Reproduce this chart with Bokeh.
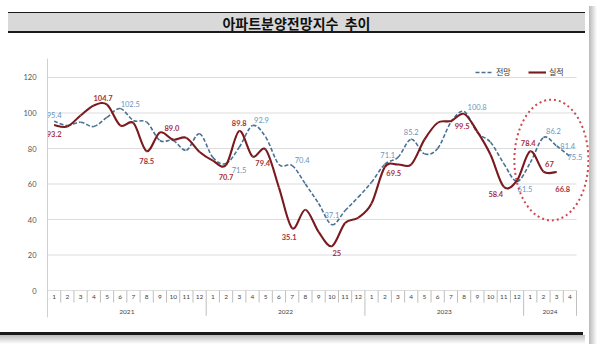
import numpy as np
from bokeh.plotting import figure
from bokeh.models import ColumnDataSource, Range1d, FixedTicker, Legend, LegendItem, Div
from bokeh.layouts import column, row
from bokeh.core.properties import value
from bokeh.embed import file_html
from bokeh.resources import INLINE

# ---------------- data ----------------
title_text = "아파트분양전망지수&nbsp;&nbsp;추이"
series_names = ["전망", "실적"]
years = ["2021", "2022", "2023", "2024"]
months_per_year = [12, 12, 12, 4]
month_labels = [str(m) for n in months_per_year for m in range(1, n + 1)]

# 전망 (forecast)
forecast = [95.4, 93.0, 94.8, 92.4, 97.6, 102.5, 95.8, 94.8, 84.5, 84.5, 79.0, 88.3,
            75.0, 71.5, 80.7, 92.9, 86.4, 71.0, 70.4, 60.0, 49.0, 37.1, 45.0, 52.6,
            61.0, 71.1, 75.0, 85.2, 77.0, 80.0, 94.8, 100.8, 89.0, 83.5, 71.5, 61.5,
            72.0, 86.2, 81.4, 75.5]
# 실적 (actual)
actual = [93.2, 92.4, 98.6, 104.2, 104.7, 93.0, 94.3, 78.5, 89.0, 85.0, 86.0, 78.0,
          73.2, 70.7, 89.8, 75.5, 79.4, 58.0, 35.1, 45.5, 33.0, 25, 38.0, 41.0,
          49.0, 69.5, 71.0, 71.0, 85.0, 94.5, 95.5, 99.5, 89.5, 76.5, 58.4, 62.0,
          78.4, 67, 66.8, None]

y_ticks = [0, 20, 40, 60, 80, 100, 120]

forecast_label_idx = [0, 5, 13, 15, 18, 21, 25, 27, 31, 35, 37, 38, 39]
actual_label_idx = [0, 4, 7, 8, 13, 14, 16, 18, 21, 25, 31, 34, 36, 37, 38]

# ---------------- styles ----------------
BLUE = "#4A7193"
BLUE_TXT = "#6A95BD"
RED = "#7A1A1E"
RED_TXT = "#A8323A"
GRID = "#DDDDDD"
TABLE = "#BFBFBF"
NUM_FONT = value("Lato")

# label offsets in screen px (dx, dy-down)
forecast_off = [(0, -6), (10, -5), (13, 6), (9, -6), (10, -6), (0, -10), (3, -9),
                (0, -7), (13, -5), (8, 8), (10, -6), (11, 0), (5, 1)]
actual_off = [(0, 9), (-4, -7), (0, 10), (12, -5), (0, 12), (0, -8), (-3, 13),
              (-3, 9), (5, 7), (9, 6), (-2, 12), (-8, 7), (-2, -8), (6, -8), (6, 17)]

n = len(month_labels)
W_MAIN = 589

# ---------------- helpers ----------------
def smooth_bezier(vals):
    idx = [i for i, v in enumerate(vals) if v is not None]
    xs = np.array(idx, dtype=float)
    ys = np.array([vals[i] for i in idx], dtype=float)
    m = len(xs)
    xp = np.concatenate([[xs[0]], xs, [xs[-1]]])
    yp = np.concatenate([[ys[0]], ys, [ys[-1]]])
    cx0 = xs[:-1] + (xp[2:m + 1] - xp[0:m - 1]) / 6.0
    cy0 = ys[:-1] + (yp[2:m + 1] - yp[0:m - 1]) / 6.0
    cx1 = xs[1:] - (xp[3:m + 2] - xp[1:m]) / 6.0
    cy1 = ys[1:] - (yp[3:m + 2] - yp[1:m]) / 6.0
    return dict(x0=xs[:-1], y0=ys[:-1], x1=xs[1:], y1=ys[1:],
                cx0=cx0, cy0=cy0, cx1=cx1, cy1=cy1)

# ---------------- top (title band) ----------------
title_html = (
    '<div style="position:relative;left:8px;top:12px;width:577px;height:21px;'
    'background:#D9D9D9;border-top:1.5px solid #1A1A1A;border-bottom:2.5px solid #1A1A1A;'
    'text-align:center;font-family:\'Noto Sans CJK KR\';font-weight:bold;font-size:14px;'
    'line-height:21px;color:#111111;">' + title_text + '</div>'
)
top = Div(text=title_html, width=W_MAIN, height=42, margin=0)

# ---------------- main chart ----------------
p = figure(width=W_MAIN, height=287, x_range=Range1d(-0.5, 40.48), y_range=Range1d(-15.2, 130.7),
           toolbar_location=None, output_backend="svg", x_axis_location=None)
p.min_border_top = 16
p.min_border_bottom = 12
p.min_border_left = 47
p.min_border_right = 0
p.outline_line_color = None
p.grid.visible = False

p.yaxis.ticker = FixedTicker(ticks=y_ticks)
p.yaxis.major_tick_line_color = None
p.yaxis.minor_tick_line_color = None
p.yaxis.axis_line_color = "#D0D0D0"
p.yaxis.major_label_text_font = "Lato"
p.yaxis.major_label_text_font_size = "7.5px"
p.yaxis.major_label_text_color = "#555555"
p.yaxis.major_label_standoff = 5

# gridlines
p.segment(x0=[-0.5] * len(y_ticks), x1=[n - 0.5] * len(y_ticks), y0=y_ticks, y1=y_ticks,
          line_color=GRID, line_width=1)

# category table below the plot
month_row_bottom = -6.8
table_bottom = -14.2
bounds = np.cumsum(months_per_year)
year_edges = [float(b) - 0.5 for b in bounds]
month_seps = [i - 0.5 for i in range(1, n) if (i - 0.5) not in year_edges]
p.segment(x0=month_seps, x1=month_seps, y0=[0] * len(month_seps), y1=[month_row_bottom] * len(month_seps),
          line_color=TABLE, line_width=1)
p.segment(x0=year_edges, x1=year_edges, y0=[0] * len(year_edges), y1=[table_bottom] * len(year_edges),
          line_color=TABLE, line_width=1)
p.text(x=list(range(n)), y=[-3.8] * n, text=month_labels, text_font=NUM_FONT, text_font_size="6.5px",
       text_align="center", text_baseline="middle", text_color="#444444")
starts = np.concatenate([[0], bounds[:-1]])
year_centers = [float(s + b - 1) / 2 for s, b in zip(starts, bounds)]
p.text(x=year_centers, y=[-12.0] * len(years), text=years, text_font=NUM_FONT, text_font_size="6.5px",
       text_align="center", text_baseline="middle", text_color="#444444")

# smoothed series
fb = smooth_bezier(forecast)
ab = smooth_bezier(actual)
r_f = p.bezier(source=ColumnDataSource(fb), x0="x0", y0="y0", x1="x1", y1="y1",
               cx0="cx0", cy0="cy0", cx1="cx1", cy1="cy1",
               line_color=BLUE, line_width=1.6, line_dash="4 2")
r_a = p.bezier(source=ColumnDataSource(ab), x0="x0", y0="y0", x1="x1", y1="y1",
               cx0="cx0", cy0="cy0", cx1="cx1", cy1="cy1",
               line_color=RED, line_width=2.1)

# data labels
fsrc = ColumnDataSource(dict(x=forecast_label_idx, y=[forecast[i] for i in forecast_label_idx],
                             t=[str(forecast[i]) for i in forecast_label_idx],
                             dx=[o[0] for o in forecast_off], dy=[o[1] for o in forecast_off]))
asrc = ColumnDataSource(dict(x=actual_label_idx, y=[actual[i] for i in actual_label_idx],
                             t=[str(actual[i]) for i in actual_label_idx],
                             dx=[o[0] for o in actual_off], dy=[o[1] for o in actual_off]))
p.text(x="x", y="y", text="t", x_offset="dx", y_offset="dy", source=fsrc, text_font=NUM_FONT,
       text_font_size="7.5px", text_align="center", text_baseline="middle", text_color=BLUE_TXT)
p.text(x="x", y="y", text="t", x_offset="dx", y_offset="dy", source=asrc, text_font=NUM_FONT,
       text_font_size="7.5px", text_font_style="bold", text_align="center", text_baseline="middle",
       text_color=RED_TXT)

# highlight ellipse around 2024
last_start = float(bounds[-2])
p.ellipse(x=[(last_start + n - 1) / 2 + 0.1], y=[73.5], width=[5.6], height=[68],
          fill_color=None, line_color="#D0474F", line_width=2, line_dash="2 3")

legend = Legend(items=[LegendItem(label=series_names[0], renderers=[r_f]),
                       LegendItem(label=series_names[1], renderers=[r_a])],
                orientation="horizontal", location=(428, 240),
                label_text_font="Noto Sans CJK KR", label_text_font_size="8px",
                label_text_color="#333333", glyph_width=18, glyph_height=10,
                label_height=10, label_standoff=3, spacing=12, padding=2, margin=0,
                border_line_color=None, background_fill_alpha=0)
p.add_layout(legend)

# ---------------- bottom rule + shadow ----------------
bot_html = ('<div style="position:relative;top:3px;width:583px;height:3px;background:#1A1A1A;"></div>'
            '<div style="position:relative;top:3px;width:585px;height:9px;'
            'background:linear-gradient(#BDBDBD,#FFFFFF);"></div>')
bot = Div(text=bot_html, width=W_MAIN, height=23, margin=0)

left_col = column(top, p, bot, spacing=0)

strip = Div(text='<div style="position:relative;top:6px;width:8px;height:338px;'
                 'background:linear-gradient(to right,#B8B8B8,#FFFFFF);"></div>',
            width=11, height=352, margin=0)

layout = row(left_col, strip, spacing=0)

open("out.html", "w").write(file_html(layout, INLINE))
